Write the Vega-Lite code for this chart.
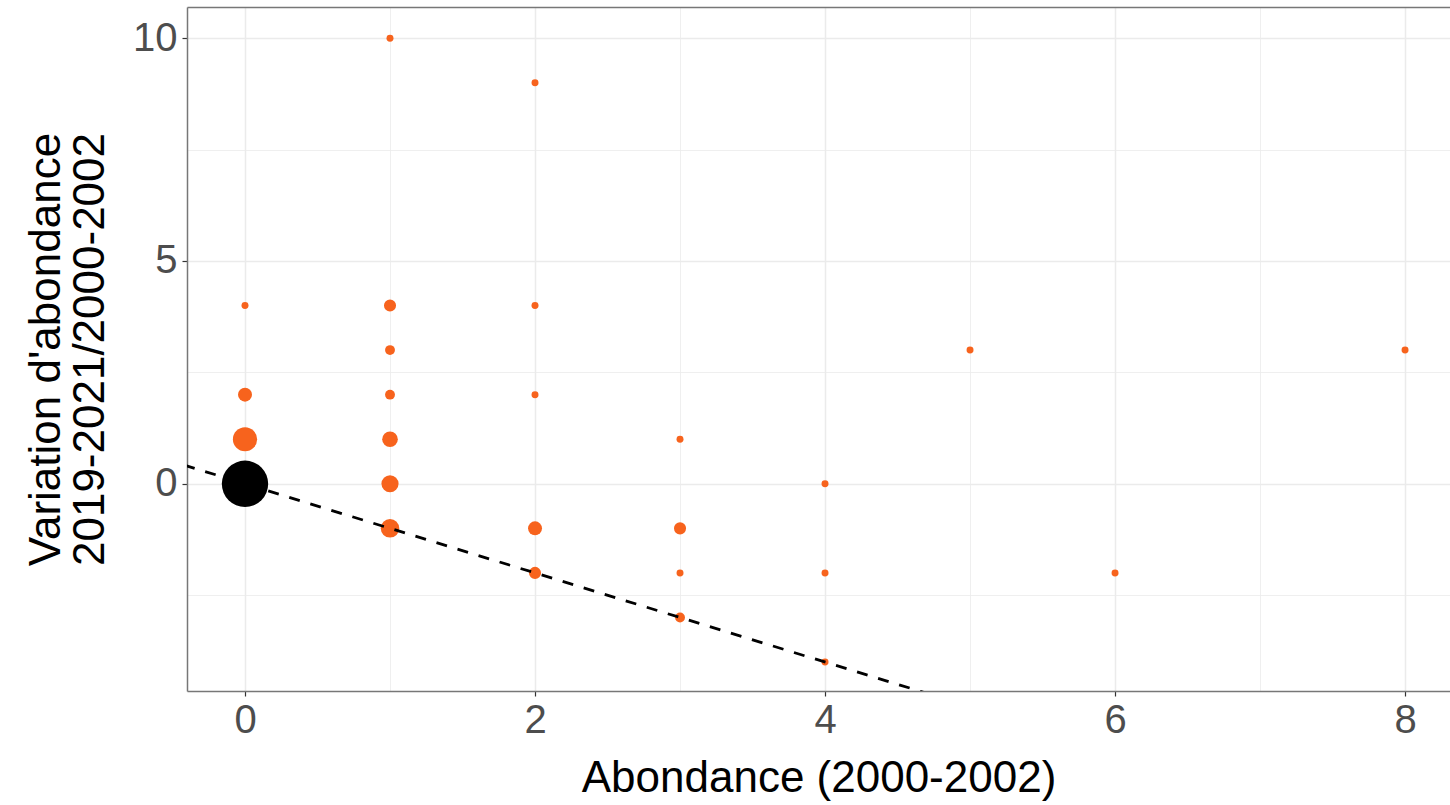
{
  "$schema": "https://vega.github.io/schema/vega-lite/v6.json",
  "autosize": "none",
  "padding": {"left": 187, "top": 7, "right": 0, "bottom": 114},
  "width": 1263,
  "height": 684,
  "background": "white",
  "config": {
    "view": {"stroke": null},
    "font": "Liberation Sans",
    "axis": {
      "labelFont": "Liberation Sans",
      "titleFont": "Liberation Sans",
      "labelFontSize": 40,
      "titleFontSize": 44,
      "labelColor": "#4D4D4D",
      "titleColor": "#000000",
      "titleFontWeight": "normal",
      "tickColor": "#333333",
      "tickSize": 5,
      "tickWidth": 1.2,
      "domainColor": "#777777",
      "domainWidth": 1.5,
      "gridColor": "#EBEBEB"
    }
  },
  "data": {
    "values": [
      {"abondance": 0, "variation": 0, "n": 44, "groupe": "zero"},
      {"abondance": 0, "variation": 1, "n": 12, "groupe": "autre"},
      {"abondance": 0, "variation": 2, "n": 4, "groupe": "autre"},
      {"abondance": 0, "variation": 4, "n": 1, "groupe": "autre"},
      {"abondance": 1, "variation": 10, "n": 1, "groupe": "autre"},
      {"abondance": 1, "variation": 4, "n": 3, "groupe": "autre"},
      {"abondance": 1, "variation": 3, "n": 2, "groupe": "autre"},
      {"abondance": 1, "variation": 2, "n": 2, "groupe": "autre"},
      {"abondance": 1, "variation": 1, "n": 5, "groupe": "autre"},
      {"abondance": 1, "variation": 0, "n": 6, "groupe": "autre"},
      {"abondance": 1, "variation": -1, "n": 7, "groupe": "autre"},
      {"abondance": 2, "variation": 9, "n": 1, "groupe": "autre"},
      {"abondance": 2, "variation": 4, "n": 1, "groupe": "autre"},
      {"abondance": 2, "variation": 2, "n": 1, "groupe": "autre"},
      {"abondance": 2, "variation": -1, "n": 4, "groupe": "autre"},
      {"abondance": 2, "variation": -2, "n": 3, "groupe": "autre"},
      {"abondance": 3, "variation": 1, "n": 1, "groupe": "autre"},
      {"abondance": 3, "variation": -1, "n": 3, "groupe": "autre"},
      {"abondance": 3, "variation": -2, "n": 1, "groupe": "autre"},
      {"abondance": 3, "variation": -3, "n": 2, "groupe": "autre"},
      {"abondance": 4, "variation": 0, "n": 1, "groupe": "autre"},
      {"abondance": 4, "variation": -2, "n": 1, "groupe": "autre"},
      {"abondance": 4, "variation": -4, "n": 1, "groupe": "autre"},
      {"abondance": 5, "variation": 3, "n": 1, "groupe": "autre"},
      {"abondance": 6, "variation": -2, "n": 1, "groupe": "autre"},
      {"abondance": 8, "variation": 3, "n": 1, "groupe": "autre"}
    ]
  },
  "layer": [
    {
      "mark": {"type": "circle", "opacity": 1, "strokeWidth": 0},
      "encoding": {
        "x": {
          "field": "abondance",
          "type": "quantitative",
          "scale": {"domain": [-0.4, 8.31], "nice": false, "zero": false},
          "axis": {
            "title": "Abondance (2000-2002)",
            "values": [0, 1, 2, 3, 4, 5, 6, 7, 8],
            "labelExpr": "datum.value % 2 === 0 ? datum.label : ''",
            "tickOpacity": {"condition": {"test": "datum.value % 2 === 0", "value": 1}, "value": 0},
            "gridWidth": {"condition": {"test": "datum.value % 2 === 0", "value": 1.5}, "value": 0.8},
            "labelPadding": 4,
            "titlePadding": 16,
            "grid": true
          }
        },
        "y": {
          "field": "variation",
          "type": "quantitative",
          "scale": {"domain": [-4.65, 10.7], "nice": false, "zero": false},
          "axis": {
            "title": ["Variation d'abondance", "2019-2021/2000-2002"],
            "titleLineHeight": 44,
            "values": [-2.5, 0, 2.5, 5, 7.5, 10],
            "labelExpr": "datum.value % 5 === 0 ? datum.label : ''",
            "tickOpacity": {"condition": {"test": "datum.value % 5 === 0", "value": 1}, "value": 0},
            "gridWidth": {"condition": {"test": "datum.value % 5 === 0", "value": 1.5}, "value": 0.8},
            "labelPadding": 5,
            "titlePadding": 20,
            "grid": true
          }
        },
        "size": {
          "field": "n",
          "type": "quantitative",
          "scale": {"type": "linear", "domain": [0, 44], "range": [0, 2150], "zero": true},
          "legend": null
        },
        "color": {
          "field": "groupe",
          "type": "nominal",
          "scale": {"domain": ["autre", "zero"], "range": ["#F7631D", "#000000"]},
          "legend": null
        }
      }
    },
    {
      "data": {"values": [{"abondance": -1, "variation": 1}, {"abondance": 9, "variation": -9}]},
      "mark": {"type": "line", "color": "#000000", "strokeWidth": 2.8, "strokeDash": [11, 11], "clip": true},
      "encoding": {
        "x": {
          "field": "abondance",
          "type": "quantitative",
          "axis": {"orient": "top", "labels": false, "ticks": false, "grid": false, "domain": true, "title": null}
        },
        "y": {"field": "variation", "type": "quantitative", "title": ["Variation d'abondance", "2019-2021/2000-2002"]}
      }
    }
  ],
  "resolve": {"axis": {"x": "independent"}}
}
